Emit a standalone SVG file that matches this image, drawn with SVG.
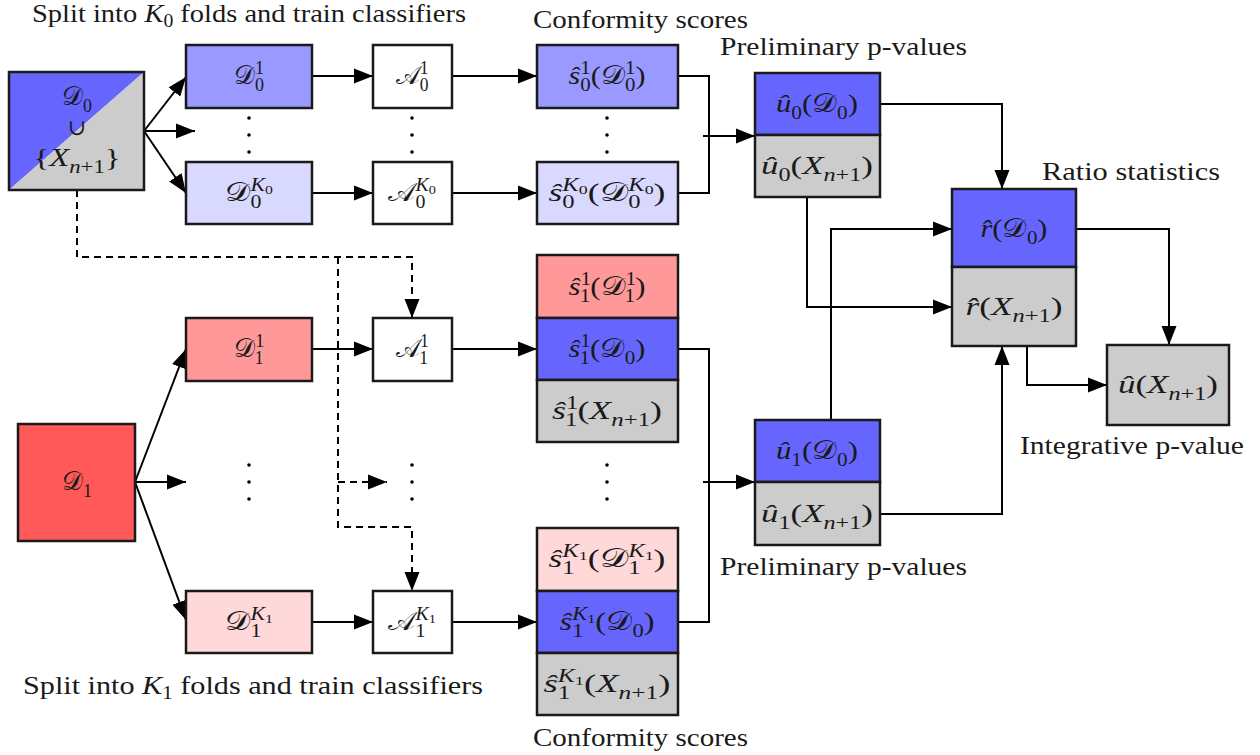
<svg xmlns="http://www.w3.org/2000/svg" width="1260" height="755" viewBox="0 0 1260 755">
<defs>
<marker id="ah" markerUnits="userSpaceOnUse" markerWidth="20" markerHeight="16" refX="19" refY="8" orient="auto">
<path d="M0,0.5 L19,8 L0,15.5 z" fill="#000"/>
</marker>
<style>
.t{font-family:"Liberation Serif",serif;font-size:26px;fill:#1a1a1a}
.m{font-family:"Liberation Serif",serif;font-size:26px;fill:#1a1a1a;text-anchor:middle}
.u{font-family:"DejaVu Serif",serif;font-size:22px;fill:#1a1a1a;text-anchor:middle}
.i{font-style:italic}
.s{font-size:18px}
.ss{font-size:13px}
.box{stroke:#1a1a1a;stroke-width:2.5}
.ln{fill:none;stroke:#000;stroke-width:2}
.ar{fill:none;stroke:#000;stroke-width:2;marker-end:url(#ah)}
.da2{fill:none;stroke:#000;stroke-width:2;stroke-dasharray:7 5;marker-end:url(#ah)}
.dot{fill:#000}
.b{fill:#6666ff}
.lb{fill:#9999ff}
.llb{fill:#d9d9ff}
.g{fill:#cccccc}
.r{fill:#ff5959}
.lr{fill:#ff9999}
.llr{fill:#ffd9d9}
.w{fill:#ffffff}
</style>
</defs>

<g id="titles">
<text class="t" x="32" y="22" textLength="434" lengthAdjust="spacingAndGlyphs">Split into <tspan class="i">K</tspan><tspan font-size="18" dy="5">0</tspan><tspan dy="-5"> folds and train classifiers</tspan></text>
<text class="t" x="533" y="28" textLength="215" lengthAdjust="spacingAndGlyphs">Conformity scores</text>
<text class="t" x="720" y="55" textLength="247" lengthAdjust="spacingAndGlyphs">Preliminary p-values</text>
<text class="t" x="1042" y="180" textLength="178" lengthAdjust="spacingAndGlyphs">Ratio statistics</text>
<text class="t" x="1020" y="454" textLength="224" lengthAdjust="spacingAndGlyphs">Integrative p-value</text>
<text class="t" x="720" y="575" textLength="247" lengthAdjust="spacingAndGlyphs">Preliminary p-values</text>
<text class="t" x="23" y="694" textLength="460" lengthAdjust="spacingAndGlyphs">Split into <tspan class="i">K</tspan><tspan font-size="18" dy="5">1</tspan><tspan dy="-5"> folds and train classifiers</tspan></text>
<text class="t" x="533" y="746" textLength="215" lengthAdjust="spacingAndGlyphs">Conformity scores</text>
</g>

<g id="connectors">
<path class="ar" d="M144,131 L186,77"/>
<path class="ar" d="M144,131 L195,131"/>
<path class="ar" d="M144,131 L186,193"/>
<path class="ar" d="M312,76 L373,76"/>
<path class="ar" d="M312,193 L373,193"/>
<path class="ar" d="M452,76 L537,76"/>
<path class="ar" d="M452,193 L537,193"/>
<path class="ln" d="M678,76 H709 V193 H678"/>
<path class="ar" d="M703,136 H755"/>
<path class="ar" d="M880,104 H1002 V189"/>
<path class="ar" d="M807,197 V307 H952"/>
<path class="ar" d="M831,420 V229 H952"/>
<path class="ar" d="M880,514 H1002 V346"/>
<path class="ar" d="M1076,229 H1169 V345"/>
<path class="ar" d="M1027,346 V385 H1107"/>
<path class="ar" d="M135,482 L186,349"/>
<path class="ar" d="M135,482 L186,482"/>
<path class="ar" d="M135,482 L186,620"/>
<path class="ar" d="M312,349 L373,349"/>
<path class="ar" d="M312,622 L373,622"/>
<path class="ar" d="M452,349 L537,349"/>
<path class="ar" d="M452,622 L537,622"/>
<path class="ln" d="M678,349 H709 V622 H678"/>
<path class="ar" d="M703,482 H755"/>
<path class="da2" d="M77,190 V257 H412 V318"/>
<path class="da2" d="M338,257 V527 H412 V591"/>
<path class="da2" d="M338,482 H387"/>
</g>

<g id="dots">
<circle class="dot" cx="249" cy="118" r="1.8"/><circle class="dot" cx="249" cy="135" r="1.8"/><circle class="dot" cx="249" cy="152" r="1.8"/>
<circle class="dot" cx="412" cy="118" r="1.8"/><circle class="dot" cx="412" cy="135" r="1.8"/><circle class="dot" cx="412" cy="152" r="1.8"/>
<circle class="dot" cx="607" cy="118" r="1.8"/><circle class="dot" cx="607" cy="135" r="1.8"/><circle class="dot" cx="607" cy="152" r="1.8"/>
<circle class="dot" cx="249" cy="465" r="1.8"/><circle class="dot" cx="249" cy="482" r="1.8"/><circle class="dot" cx="249" cy="499" r="1.8"/>
<circle class="dot" cx="412" cy="465" r="1.8"/><circle class="dot" cx="412" cy="482" r="1.8"/><circle class="dot" cx="412" cy="499" r="1.8"/>
<circle class="dot" cx="607" cy="465" r="1.8"/><circle class="dot" cx="607" cy="482" r="1.8"/><circle class="dot" cx="607" cy="499" r="1.8"/>
</g>

<g id="D0">
<polygon class="b" points="9,72 144,72 9,190"/>
<polygon class="g" points="144,72 144,190 9,190"/>
<rect x="9" y="72" width="135" height="118" fill="none" class="box"/>
<text class="m" x="77" y="105" textLength="30" lengthAdjust="spacingAndGlyphs">𝒟<tspan class="s" dy="7">0</tspan></text>
<text class="u" x="77" y="135">∪</text>
<text class="m" x="77" y="166" textLength="87" lengthAdjust="spacingAndGlyphs">{<tspan class="i">X</tspan><tspan class="s" dy="7"><tspan class="i">n</tspan>+1</tspan><tspan dy="-7">}</tspan></text>
</g>

<g id="D0_1">
<rect x="186" y="45" width="126" height="63" class="box lb"/>
<text class="m" x="249" y="84" textLength="30" lengthAdjust="spacingAndGlyphs">𝒟<tspan class="s" dy="-10">1</tspan><tspan class="s" dx="-9" dy="17">0</tspan></text>
</g>
<g id="D0_K0">
<rect x="186" y="162" width="126" height="62" class="box llb"/>
<text class="m" x="249" y="201" textLength="48" lengthAdjust="spacingAndGlyphs">𝒟<tspan class="s" dy="7">0</tspan><tspan class="s i" dx="-9" dy="-17">K</tspan><tspan class="ss" dy="3">0</tspan></text>
</g>
<g id="A0_1">
<rect x="373" y="45" width="79" height="63" class="box w"/>
<text class="m" x="412" y="84" textLength="33" lengthAdjust="spacingAndGlyphs">𝒜<tspan class="s" dy="-10">1</tspan><tspan class="s" dx="-9" dy="17">0</tspan></text>
</g>
<g id="A0_K0">
<rect x="373" y="162" width="79" height="62" class="box w"/>
<text class="m" x="412" y="201" textLength="48" lengthAdjust="spacingAndGlyphs">𝒜<tspan class="s" dy="7">0</tspan><tspan class="s i" dx="-9" dy="-17">K</tspan><tspan class="ss" dy="3">0</tspan></text>
</g>
<g id="s0_1">
<rect x="537" y="45" width="141" height="63" class="box lb"/>
<text class="m" x="607" y="84" textLength="77" lengthAdjust="spacingAndGlyphs"><tspan class="i">ŝ</tspan><tspan class="s" dy="-10">1</tspan><tspan class="s" dx="-9" dy="17">0</tspan><tspan dy="-7">(𝒟</tspan><tspan class="s" dy="-10">1</tspan><tspan class="s" dx="-9" dy="17">0</tspan><tspan dy="-7">)</tspan></text>
</g>
<g id="s0_K0">
<rect x="537" y="162" width="141" height="62" class="box llb"/>
<text class="m" x="607" y="201" textLength="117" lengthAdjust="spacingAndGlyphs"><tspan class="i">ŝ</tspan><tspan class="s" dy="7">0</tspan><tspan class="s i" dx="-9" dy="-17">K</tspan><tspan class="ss" dy="3">0</tspan><tspan dy="7">(𝒟</tspan><tspan class="s" dy="7">0</tspan><tspan class="s i" dx="-9" dy="-17">K</tspan><tspan class="ss" dy="3">0</tspan><tspan dy="7">)</tspan></text>
</g>
<g id="u0">
<rect x="755" y="73" width="125" height="62" class="box b"/>
<rect x="755" y="135" width="125" height="62" class="box g"/>
<text class="m" x="817" y="112" textLength="82" lengthAdjust="spacingAndGlyphs"><tspan class="i">û</tspan><tspan class="s" dy="7">0</tspan><tspan dy="-7">(𝒟</tspan><tspan class="s" dy="7">0</tspan><tspan dy="-7">)</tspan></text>
<text class="m" x="817" y="174" textLength="112" lengthAdjust="spacingAndGlyphs"><tspan class="i">û</tspan><tspan class="s" dy="7">0</tspan><tspan dy="-7">(</tspan><tspan class="i">X</tspan><tspan class="s" dy="7"><tspan class="i">n</tspan>+1</tspan><tspan dy="-7">)</tspan></text>
</g>
<g id="r">
<rect x="952" y="189" width="124" height="78" class="box b"/>
<rect x="952" y="267" width="124" height="79" class="box g"/>
<text class="m" x="1014" y="237" textLength="67" lengthAdjust="spacingAndGlyphs"><tspan class="i">r̂</tspan>(𝒟<tspan class="s" dy="7">0</tspan><tspan dy="-7">)</tspan></text>
<text class="m" x="1014" y="315" textLength="97" lengthAdjust="spacingAndGlyphs"><tspan class="i">r̂</tspan>(<tspan class="i">X</tspan><tspan class="s" dy="7"><tspan class="i">n</tspan>+1</tspan><tspan dy="-7">)</tspan></text>
</g>
<g id="u">
<rect x="1107" y="345" width="122" height="80" class="box g"/>
<text class="m" x="1168" y="393" textLength="100" lengthAdjust="spacingAndGlyphs"><tspan class="i">û</tspan>(<tspan class="i">X</tspan><tspan class="s" dy="7"><tspan class="i">n</tspan>+1</tspan><tspan dy="-7">)</tspan></text>
</g>

<g id="D1">
<rect x="18" y="424" width="117" height="117" class="box r"/>
<text class="m" x="77" y="490" textLength="30" lengthAdjust="spacingAndGlyphs">𝒟<tspan class="s" dy="7">1</tspan></text>
</g>
<g id="D1_1">
<rect x="186" y="318" width="126" height="63" class="box lr"/>
<text class="m" x="249" y="357" textLength="30" lengthAdjust="spacingAndGlyphs">𝒟<tspan class="s" dy="-10">1</tspan><tspan class="s" dx="-9" dy="17">1</tspan></text>
</g>
<g id="D1_K1">
<rect x="186" y="591" width="126" height="62" class="box llr"/>
<text class="m" x="249" y="630" textLength="48" lengthAdjust="spacingAndGlyphs">𝒟<tspan class="s" dy="7">1</tspan><tspan class="s i" dx="-9" dy="-17">K</tspan><tspan class="ss" dy="3">1</tspan></text>
</g>
<g id="A1_1">
<rect x="373" y="318" width="79" height="63" class="box w"/>
<text class="m" x="412" y="357" textLength="33" lengthAdjust="spacingAndGlyphs">𝒜<tspan class="s" dy="-10">1</tspan><tspan class="s" dx="-9" dy="17">1</tspan></text>
</g>
<g id="A1_K1">
<rect x="373" y="591" width="79" height="62" class="box w"/>
<text class="m" x="412" y="630" textLength="48" lengthAdjust="spacingAndGlyphs">𝒜<tspan class="s" dy="7">1</tspan><tspan class="s i" dx="-9" dy="-17">K</tspan><tspan class="ss" dy="3">1</tspan></text>
</g>
<g id="s1_1">
<rect x="537" y="255" width="141" height="63" class="box lr"/>
<rect x="537" y="318" width="141" height="62" class="box b"/>
<rect x="537" y="380" width="141" height="62" class="box g"/>
<text class="m" x="607" y="295" textLength="77" lengthAdjust="spacingAndGlyphs"><tspan class="i">ŝ</tspan><tspan class="s" dy="-10">1</tspan><tspan class="s" dx="-9" dy="17">1</tspan><tspan dy="-7">(𝒟</tspan><tspan class="s" dy="-10">1</tspan><tspan class="s" dx="-9" dy="17">1</tspan><tspan dy="-7">)</tspan></text>
<text class="m" x="607" y="357" textLength="77" lengthAdjust="spacingAndGlyphs"><tspan class="i">ŝ</tspan><tspan class="s" dy="-10">1</tspan><tspan class="s" dx="-9" dy="17">1</tspan><tspan dy="-7">(𝒟</tspan><tspan class="s" dy="7">0</tspan><tspan dy="-7">)</tspan></text>
<text class="m" x="607" y="419" textLength="110" lengthAdjust="spacingAndGlyphs"><tspan class="i">ŝ</tspan><tspan class="s" dy="-10">1</tspan><tspan class="s" dx="-9" dy="17">1</tspan><tspan dy="-7">(</tspan><tspan class="i">X</tspan><tspan class="s" dy="7"><tspan class="i">n</tspan>+1</tspan><tspan dy="-7">)</tspan></text>
</g>
<g id="s1_K1">
<rect x="537" y="528" width="141" height="63" class="box llr"/>
<rect x="537" y="591" width="141" height="62" class="box b"/>
<rect x="537" y="653" width="141" height="62" class="box g"/>
<text class="m" x="607" y="567" textLength="117" lengthAdjust="spacingAndGlyphs"><tspan class="i">ŝ</tspan><tspan class="s" dy="7">1</tspan><tspan class="s i" dx="-9" dy="-17">K</tspan><tspan class="ss" dy="3">1</tspan><tspan dy="7">(𝒟</tspan><tspan class="s" dy="7">1</tspan><tspan class="s i" dx="-9" dy="-17">K</tspan><tspan class="ss" dy="3">1</tspan><tspan dy="7">)</tspan></text>
<text class="m" x="607" y="630" textLength="95" lengthAdjust="spacingAndGlyphs"><tspan class="i">ŝ</tspan><tspan class="s" dy="7">1</tspan><tspan class="s i" dx="-9" dy="-17">K</tspan><tspan class="ss" dy="3">1</tspan><tspan dy="7">(𝒟</tspan><tspan class="s" dy="7">0</tspan><tspan dy="-7">)</tspan></text>
<text class="m" x="607" y="692" textLength="127" lengthAdjust="spacingAndGlyphs"><tspan class="i">ŝ</tspan><tspan class="s" dy="7">1</tspan><tspan class="s i" dx="-9" dy="-17">K</tspan><tspan class="ss" dy="3">1</tspan><tspan dy="7">(</tspan><tspan class="i">X</tspan><tspan class="s" dy="7"><tspan class="i">n</tspan>+1</tspan><tspan dy="-7">)</tspan></text>
</g>
<g id="u1">
<rect x="755" y="420" width="125" height="62" class="box b"/>
<rect x="755" y="482" width="125" height="63" class="box g"/>
<text class="m" x="817" y="459" textLength="82" lengthAdjust="spacingAndGlyphs"><tspan class="i">û</tspan><tspan class="s" dy="7">1</tspan><tspan dy="-7">(𝒟</tspan><tspan class="s" dy="7">0</tspan><tspan dy="-7">)</tspan></text>
<text class="m" x="817" y="522" textLength="112" lengthAdjust="spacingAndGlyphs"><tspan class="i">û</tspan><tspan class="s" dy="7">1</tspan><tspan dy="-7">(</tspan><tspan class="i">X</tspan><tspan class="s" dy="7"><tspan class="i">n</tspan>+1</tspan><tspan dy="-7">)</tspan></text>
</g>
</svg>
